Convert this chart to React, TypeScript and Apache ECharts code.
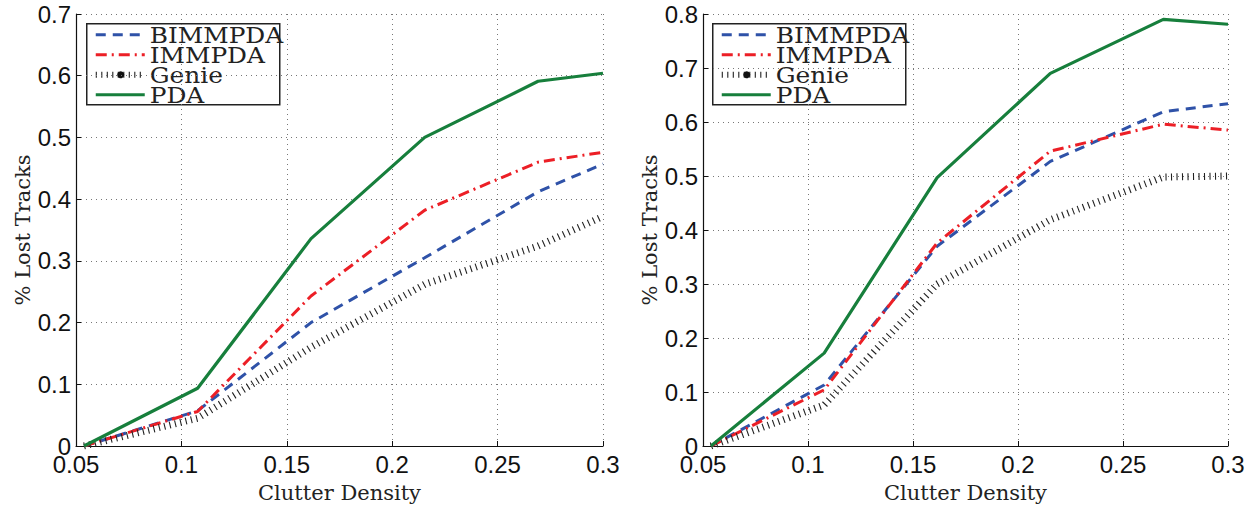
import React, { useEffect, useRef } from "react";
import * as echarts from "echarts";

// Clutter density sample points
const xValues = [0.0538, 0.1077, 0.1615, 0.2154, 0.2692, 0.3];

// Left panel
const leftBIMMPDA = [0, 0.057, 0.2, 0.305, 0.412, 0.457];
const leftIMMPDA = [0, 0.056, 0.243, 0.382, 0.46, 0.476];
const leftGenie = [0, 0.045, 0.16, 0.262, 0.324, 0.372];
const leftPDA = [0, 0.0936, 0.336, 0.5, 0.591, 0.604];

// Right panel
const rightBIMMPDA = [0, 0.113, 0.37, 0.527, 0.619, 0.634];
const rightIMMPDA = [0, 0.104, 0.376, 0.546, 0.596, 0.585];
const rightGenie = [0, 0.076, 0.3, 0.419, 0.498, 0.5];
const rightPDA = [0, 0.172, 0.497, 0.69, 0.79, 0.781];

const legendNames = ["BIMMPDA", "IMMPDA", "Genie", "PDA"];
const xTicks = { min: 0.05, max: 0.3, interval: 0.05 };
const leftYTicks = { min: 0, max: 0.7, interval: 0.1 };
const rightYTicks = { min: 0, max: 0.8, interval: 0.1 };

const BLUE = "#2f52a8";
const RED = "#ec1f26";
const GREEN = "#177f3c";
const BLACK = "#222222";

const styles: Record<string, any> = {
  BIMMPDA: { color: BLUE, width: 3, type: [10, 7] },
  IMMPDA: { color: RED, width: 3, type: [11, 5, 2, 5] },
  Genie: { color: BLACK, width: 7, type: [1.1, 4.4] },
  PDA: { color: GREEN, width: 3.2, type: "solid" },
};

const fmt = (v: number) => String(Number(v.toFixed(2)));

function makeSeries(name: string, ys: number[], idx: number) {
  const s = styles[name];
  return {
    type: "line",
    name,
    xAxisIndex: idx,
    yAxisIndex: idx,
    data: xValues.map((x, i) => [x, ys[i]]),
    showSymbol: false,
    symbol: "none",
    lineStyle: { color: s.color, width: s.width, type: s.type, cap: "butt" },
    itemStyle: { color: s.color },
    z: name === "PDA" ? 5 : 3,
  };
}

function legendGraphic(left: number, top: number) {
  const rowY = [11, 31, 51, 71];
  const children: any[] = [
    {
      type: "rect",
      shape: { x: 0, y: 0, width: 193, height: 81 },
      style: { fill: "#fff", stroke: "#222", lineWidth: 1.5 },
    },
  ];
  legendNames.forEach((n, i) => {
    const s = styles[n];
    const legendStyle =
      n === "Genie" ? { width: 6, type: [1.1, 4.4] } : { width: s.width, type: s.type };
    children.push({
      type: "line",
      shape: { x1: 9, y1: rowY[i], x2: 58, y2: rowY[i] },
      style: {
        stroke: s.color,
        lineWidth: legendStyle.width,
        lineDash: legendStyle.type === "solid" ? null : legendStyle.type,
      },
    });
    if (n === "Genie") {
      children.push({
        type: "circle",
        shape: { cx: 34, cy: rowY[i], r: 3.5 },
        style: { fill: "#111" },
      });
    }
    children.push({
      type: "text",
      x: 63,
      y: rowY[i] + 1,
      scaleX: 1.08,
      style: {
        text: n,
        font: "23px 'DejaVu Serif'",
        fill: "#222",
        verticalAlign: "middle",
      },
    });
  });
  return { type: "group", left, top, z: 100, children };
}

function makeXAxis(gridIndex: number) {
  return {
    type: "value",
    gridIndex,
    ...xTicks,
    name: "Clutter Density",
    nameLocation: "middle",
    nameGap: 36,
    nameTextStyle: { fontFamily: "DejaVu Serif", fontSize: 21, color: "#222" },
    axisLine: { show: true, lineStyle: { color: "#111", width: 1.2 } },
    axisTick: { show: true, inside: true, length: 5, lineStyle: { color: "#111" } },
    axisLabel: {
      formatter: fmt,
      fontFamily: "Liberation Sans",
      fontSize: 24,
      lineHeight: 18,
      color: "#111",
      margin: 9,
    },
    splitLine: { show: true, lineStyle: { color: "#777", type: [1, 4], width: 1 } },
  };
}

function makeYAxis(gridIndex: number, t: any) {
  return {
    type: "value",
    gridIndex,
    ...t,
    name: "% Lost Tracks",
    nameLocation: "middle",
    nameGap: 42,
    nameTextStyle: { fontFamily: "DejaVu Serif", fontSize: 21, color: "#222" },
    axisLine: { show: true, lineStyle: { color: "#111", width: 1.2 } },
    axisTick: { show: true, inside: true, length: 5, lineStyle: { color: "#111" } },
    axisLabel: {
      formatter: fmt,
      fontFamily: "Liberation Sans",
      fontSize: 24,
      lineHeight: 17,
      color: "#111",
      margin: 5,
    },
    splitLine: { show: true, lineStyle: { color: "#777", type: [1, 4], width: 1 } },
  };
}

export default function App() {
  const ref = useRef<HTMLDivElement>(null);
  useEffect(() => {
    document.body.style.margin = "0";
    const chart = echarts.init(ref.current!, null, { renderer: "svg" });
    chart.setOption({
      animation: false,
      backgroundColor: "#fff",
      grid: [
        { left: 76, right: 650, top: 14, bottom: 58 },
        { left: 703, right: 25, top: 14, bottom: 58 },
      ],
      xAxis: [makeXAxis(0), makeXAxis(1)],
      yAxis: [makeYAxis(0, leftYTicks), makeYAxis(1, rightYTicks)],
      series: [
        makeSeries("BIMMPDA", leftBIMMPDA, 0),
        makeSeries("IMMPDA", leftIMMPDA, 0),
        makeSeries("Genie", leftGenie, 0),
        makeSeries("PDA", leftPDA, 0),
        makeSeries("BIMMPDA", rightBIMMPDA, 1),
        makeSeries("IMMPDA", rightIMMPDA, 1),
        makeSeries("Genie", rightGenie, 1),
        makeSeries("PDA", rightPDA, 1),
      ],
      graphic: [legendGraphic(86, 23), legendGraphic(712, 23)],
    });
    return () => chart.dispose();
  }, []);
  return <div ref={ref} style={{ width: 1253, height: 508 }} />;
}
